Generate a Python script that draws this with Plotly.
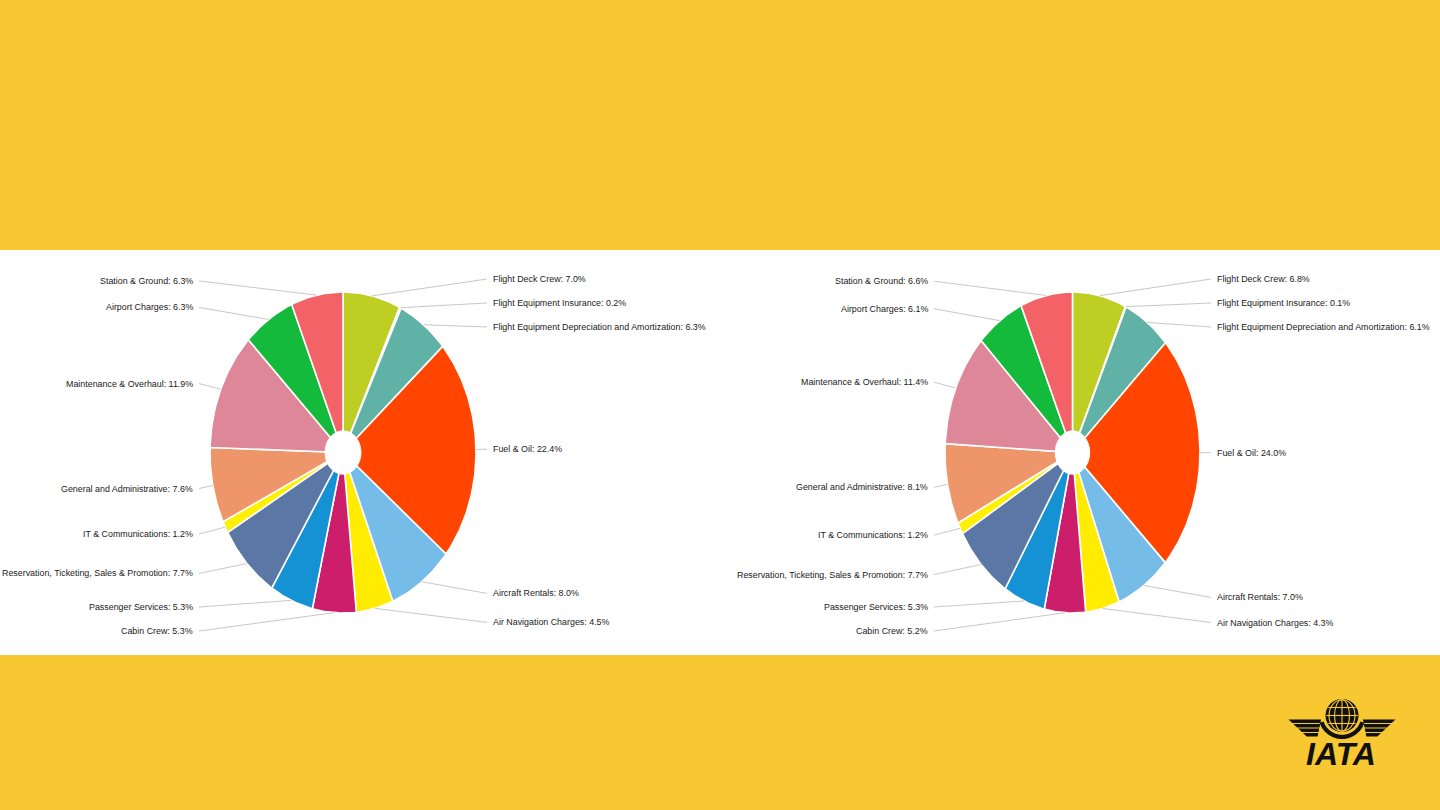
import numpy as np
import plotly.graph_objects as go

# ---------------- data ----------------
categories = [
    "Flight Deck Crew",
    "Flight Equipment Insurance",
    "Flight Equipment Depreciation and Amortization",
    "Fuel & Oil",
    "Aircraft Rentals",
    "Air Navigation Charges",
    "Cabin Crew",
    "Passenger Services",
    "Reservation, Ticketing, Sales & Promotion",
    "IT & Communications",
    "General and Administrative",
    "Maintenance & Overhaul",
    "Airport Charges",
    "Station & Ground",
]
share_left = [7.0, 0.2, 6.3, 22.4, 8.0, 4.5, 5.3, 5.3, 7.7, 1.2, 7.6, 11.9, 6.3, 6.3]
share_right = [6.8, 0.1, 6.1, 24.0, 7.0, 4.3, 5.2, 5.3, 7.7, 1.2, 8.1, 11.4, 6.1, 6.6]
colors = [
    "#BFCE22", "#8C8FD6", "#60B2A6", "#FF4500", "#75BDE8", "#FFEC00", "#CC1E6A",
    "#1592D3", "#5B77A5", "#FFF000", "#EF956A", "#DD8799", "#13BA3B", "#F26266",
]

# ---------------- layout constants ----------------
W, H = 1440, 810
YELLOW = "#F8C832"
FONT = "Liberation Sans, Arial, Helvetica, sans-serif"
LABEL_SIZE = 8.9
PIES = [
    dict(values=share_left, cx=343.0, cy=452.5, rx=133.0, ry=160.5),
    dict(values=share_right, cx=1072.5, cy=452.5, rx=127.5, ry=160.5),
]
HOLE = 0.135
LABEL_GAP = 24.0
LABEL_TOP, LABEL_BOTTOM = 279.0, 631.0
LABEL_OFFSET = 15.0

fig = go.Figure()


def spread(ideal, gap, lo, hi):
    """Resolve vertical overlaps of labels on one side of a pie."""
    order = sorted(range(len(ideal)), key=lambda i: ideal[i])
    clusters = []
    for i in order:
        clusters.append({"members": [i], "start": ideal[i]})
        while len(clusters) > 1:
            prev, cur = clusters[-2], clusters[-1]
            if prev["start"] + len(prev["members"]) * gap > cur["start"]:
                members = prev["members"] + cur["members"]
                n = len(members)
                start = np.mean([ideal[m] for m in members]) - (n - 1) * gap / 2
                clusters[-2:] = [{"members": members, "start": start}]
            else:
                break
    pos = {}
    for cl in clusters:
        n = len(cl["members"])
        start = max(lo, min(cl["start"], hi - (n - 1) * gap))
        for k, m in enumerate(cl["members"]):
            pos[m] = start + k * gap
    return pos


for p in PIES:
    vals = np.array(p["values"], dtype=float)
    frac = vals / vals.sum()
    ends = np.cumsum(frac) * 2 * np.pi
    starts = ends - frac * 2 * np.pi
    cx, cy, rx, ry = p["cx"], p["cy"], p["rx"], p["ry"]

    # slices
    for name, v, a0, a1, col in zip(categories, vals, starts, ends, colors):
        n = max(3, int(np.degrees(a1 - a0)) + 2)
        th = np.linspace(a0, a1, n)
        xs = np.concatenate([[cx], cx + rx * np.sin(th), [cx]])
        ys = np.concatenate([[cy], cy - ry * np.cos(th), [cy]])
        fig.add_trace(go.Scatter(
            x=xs, y=ys, mode="lines", fill="toself", fillcolor=col,
            line=dict(color="white", width=1.6), showlegend=False,
            hoveron="fills", name=f"{name}: {v:.1f}%", hoverinfo="name",
        ))

    # inner hole
    fig.add_shape(type="circle", xref="x", yref="y",
                  x0=cx - rx * HOLE, x1=cx + rx * HOLE,
                  y0=cy - ry * HOLE, y1=cy + ry * HOLE,
                  fillcolor="white", line=dict(color="white", width=1), layer="above")

    # labels with leader lines
    mids = (starts + ends) / 2
    ideal = cy - (ry + 14.5) * np.cos(mids)
    right_idx = [i for i in range(len(mids)) if mids[i] < np.pi]
    left_idx = [i for i in range(len(mids)) if mids[i] >= np.pi]
    for side, idx in (("right", right_idx), ("left", left_idx)):
        pos = spread([ideal[i] for i in idx], LABEL_GAP, LABEL_TOP, LABEL_BOTTOM)
        for k, i in enumerate(idx):
            ly = pos[k]
            if side == "right":
                lx = cx + rx + LABEL_OFFSET
                line_x0 = lx - 4
                anchor = "left"
            else:
                lx = cx - rx - LABEL_OFFSET
                line_x0 = lx + 4
                anchor = "right"
            ex = cx + rx * np.sin(mids[i])
            ey = cy - ry * np.cos(mids[i])
            fig.add_trace(go.Scatter(
                x=[line_x0, ex], y=[ly, ey], mode="lines",
                line=dict(color="#C8C8C8", width=1), showlegend=False, hoverinfo="skip",
            ))
            fig.add_annotation(
                x=lx, y=ly, xref="x", yref="y", text=f"{categories[i]}: {vals[i]:.1f}%",
                showarrow=False, xanchor=anchor, yanchor="middle",
                font=dict(family=FONT, size=LABEL_SIZE, color="#1A1A1A"),
            )

# white band behind the charts
fig.add_shape(type="rect", xref="x", yref="y", x0=0, x1=W, y0=250, y1=655,
              fillcolor="white", line=dict(width=0), layer="below")

# ---------------- IATA logo (decoration) ----------------
gx, gy, gr = 1342.0, 715.5, 16.5
BLACK = "#111111"
th = np.linspace(np.radians(198), np.radians(342), 40)
outer_x = gx + 23.5 * np.cos(th)
outer_y = gy - 23.5 * np.sin(th)
inner_x = gx + 19.3 * np.cos(th[::-1])
inner_y = gy - 19.3 * np.sin(th[::-1])
path = "M " + " L ".join(f"{a:.2f},{b:.2f}" for a, b in zip(
    np.concatenate([outer_x, inner_x]), np.concatenate([outer_y, inner_y]))) + " Z"
fig.add_shape(type="path", path=path, xref="x", yref="y", fillcolor=BLACK,
              line=dict(width=0), layer="above")
for side in (-1, 1):
    for k in range(4):
        y0 = 719.5 + k * 4.5
        y1 = y0 + 3.6
        tip = 53.5 - k * 4.8
        inner = 21.0 + k * 0.9
        xa_t, xb_t = gx + side * tip, gx + side * inner
        xa_b, xb_b = gx + side * (tip - 3.8), gx + side * (inner + 0.6)
        wp = f"M {xa_t},{y0} L {xb_t},{y0} L {xb_b},{y1} L {xa_b},{y1} Z"
        fig.add_shape(type="path", path=wp, xref="x", yref="y", fillcolor=BLACK,
                      line=dict(width=0), layer="above")
fig.add_shape(type="circle", xref="x", yref="y", x0=gx - gr, x1=gx + gr,
              y0=gy - gr, y1=gy + gr, fillcolor=BLACK, line=dict(width=0), layer="above")
for mr in (7.5, 13.0):
    fig.add_shape(type="circle", xref="x", yref="y", x0=gx - mr, x1=gx + mr,
                  y0=gy - gr + 0.8, y1=gy + gr - 0.8, fillcolor="rgba(0,0,0,0)",
                  line=dict(color=YELLOW, width=1.1), layer="above")
fig.add_shape(type="line", xref="x", yref="y", x0=gx, x1=gx, y0=gy - gr + 0.5,
              y1=gy + gr - 0.5, line=dict(color=YELLOW, width=1.1), layer="above")
for dy in (-8.0, 0.0, 8.0):
    half = np.sqrt(gr ** 2 - dy ** 2) - 0.8
    fig.add_shape(type="line", xref="x", yref="y", x0=gx - half, x1=gx + half,
                  y0=gy + dy, y1=gy + dy, line=dict(color=YELLOW, width=1.1), layer="above")
fig.add_annotation(x=gx - 1, y=754, xref="x", yref="y", text="<b><i>IATA</i></b>",
                   showarrow=False, xanchor="center", yanchor="middle",
                   font=dict(family="Liberation Sans, Arial, sans-serif", size=32, color=BLACK))

fig.update_layout(
    width=W, height=H, margin=dict(l=0, r=0, t=0, b=0),
    paper_bgcolor=YELLOW, plot_bgcolor=YELLOW,
    xaxis=dict(range=[0, W], visible=False, fixedrange=True),
    yaxis=dict(range=[H, 0], visible=False, fixedrange=True),
    showlegend=False, hovermode="closest",
)

fig.write_html("out.html")
